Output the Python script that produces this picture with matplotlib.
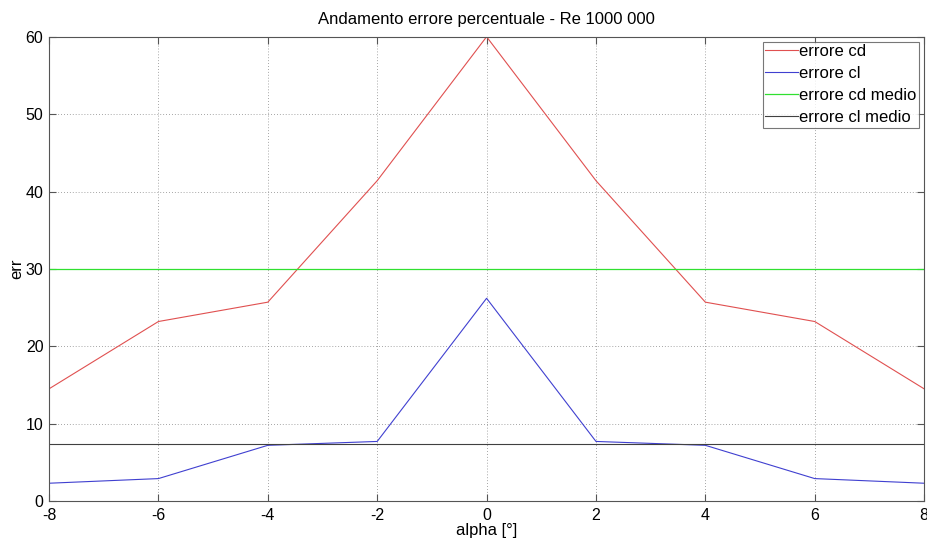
import matplotlib
matplotlib.use("Agg")
import matplotlib.pyplot as plt

plt.rcParams['font.family'] = ['Liberation Sans', 'DejaVu Sans']
plt.rcParams['axes.unicode_minus'] = False

alpha = [-8, -6, -4, -2, 0, 2, 4, 6, 8]
err_cd = [14.5, 23.2, 25.7, 41.4, 60.0, 41.4, 25.7, 23.2, 14.5]
err_cl = [2.3, 2.9, 7.2, 7.7, 26.2, 7.7, 7.2, 2.9, 2.3]
err_cd_medio = 30.0
err_cl_medio = 7.4

fig = plt.figure(figsize=(9.27, 5.43), dpi=100)
ax = fig.add_axes([0.0529, 0.0773, 0.944, 0.855])

ax.plot(alpha, err_cd, color='#e05050', lw=0.8, label='errore cd')
ax.plot(alpha, err_cl, color='#4040d0', lw=0.8, label='errore cl')
ax.plot([alpha[0], alpha[-1]], [err_cd_medio, err_cd_medio], color='#30e030', lw=0.9, label='errore cd medio')
ax.plot([alpha[0], alpha[-1]], [err_cl_medio, err_cl_medio], color='#404040', lw=0.8, label='errore cl medio')

ax.set_xlim(-8, 8)
ax.set_ylim(0, 60)
ax.set_xticks(range(-8, 9, 2))
ax.set_yticks(range(0, 61, 10))
ax.grid(True, linestyle=(0, (1, 2.5)), color='#888888', lw=0.6)
ax.tick_params(direction='in', top=True, right=True, labelsize=11.5, length=5, color='#555555')
ax.tick_params(axis='x', pad=5)
ax.tick_params(axis='y', pad=4)
for s in ax.spines.values():
    s.set_color('#555555')
    s.set_linewidth(0.8)

ax.set_xlabel('alpha [°]', fontsize=12, labelpad=0)
ax.set_ylabel('err', fontsize=12, labelpad=1)
ax.set_title('Andamento errore percentuale - Re 1000 000', fontsize=12, pad=9)

leg = ax.legend(loc='upper right', fontsize=12, frameon=True, fancybox=False,
                edgecolor='#555555', handlelength=2.0, handletextpad=0.05,
                borderpad=0.15, labelspacing=0.42, borderaxespad=0.3)
leg.get_frame().set_linewidth(0.8)

fig.savefig('out.png', dpi=100)
